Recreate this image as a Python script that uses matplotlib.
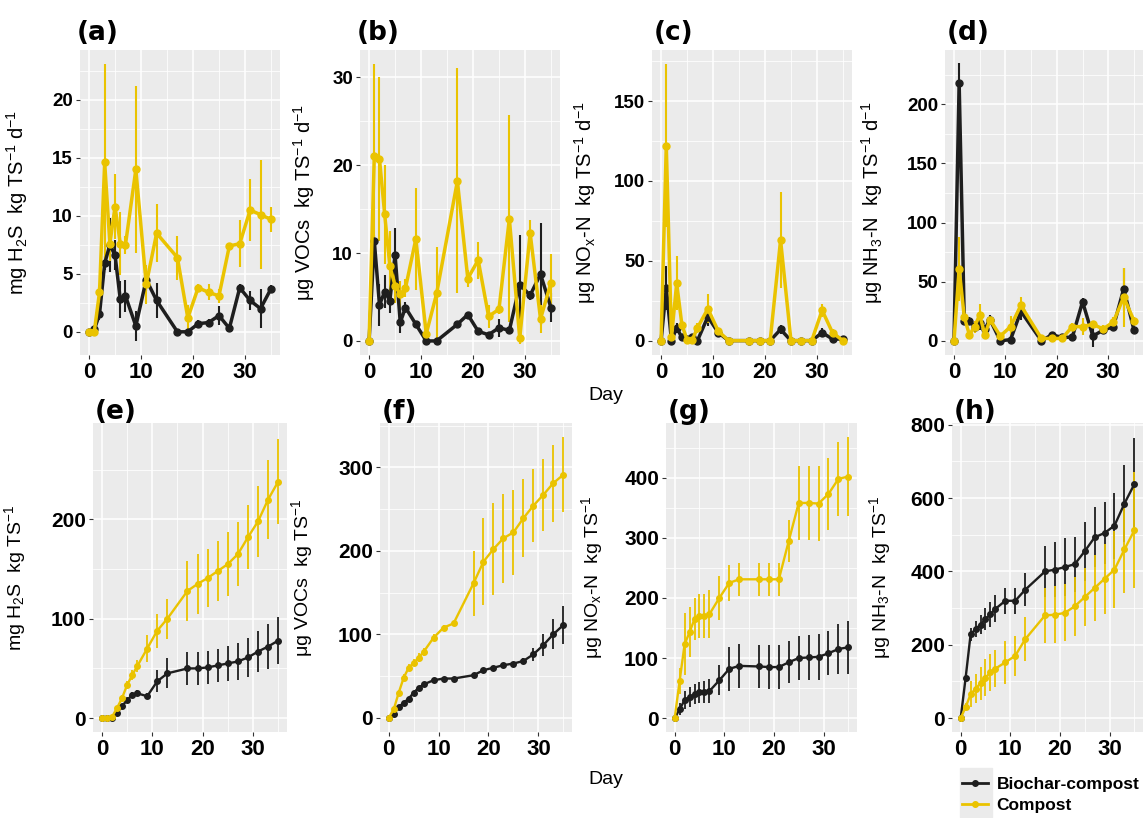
import numpy as np
import matplotlib
matplotlib.use("Agg")
import matplotlib.pyplot as plt
from matplotlib.lines import Line2D
from matplotlib.patches import Rectangle
from matplotlib.ticker import MultipleLocator

plt.rcParams['font.family'] = ['Liberation Sans', 'DejaVu Sans']
plt.rcParams['mathtext.default'] = 'regular'

# sampling days (shared by every panel)
days = [0, 1, 2, 3, 4, 5, 6, 7, 9, 11, 13, 17, 19, 21, 23, 25, 27, 29, 31, 33, 35]

# ---- daily emission rates (mean, sd) ----
h2s_rate_bc = [0, 0.2, 1.5, 5.9, 7.5, 6.6, 2.8, 3.1, 0.5, 4.5, 2.7, 0, 0, 0.7, 0.8, 1.4, 0.3, 3.8, 2.7, 2.0, 3.7]
h2s_rate_bc_sd = [0, 0.3, 0.5, 0.6, 2.3, 1.3, 1.6, 1.4, 1.3, 1.0, 1.5, 0.1, 0.1, 0.3, 0.3, 0.8, 0.2, 0.3, 0.8, 1.7, 0.3]
h2s_rate_c = [0, 0, 3.4, 14.6, 7.6, 10.8, 7.6, 7.5, 14.0, 4.1, 8.5, 6.4, 1.2, 3.8, 3.4, 3.1, 7.4, 7.6, 10.5, 10.1, 9.7]
h2s_rate_c_sd = [0, 0, 0.5, 8.5, 1.5, 2.8, 2.7, 0.8, 7.2, 1.7, 2.5, 1.9, 1.1, 0.3, 0.7, 0.6, 0.3, 2.0, 2.7, 4.7, 1.1]

voc_rate_bc = [0, 11.4, 4.1, 5.6, 4.6, 9.8, 2.1, 3.8, 1.9, 0, 0, 1.9, 3.0, 1.1, 0.7, 1.5, 1.2, 6.4, 5.2, 7.6, 3.8]
voc_rate_bc_sd = [0, 0.6, 2.4, 1.9, 1.4, 3.0, 1.2, 0.6, 0.4, 0.1, 0.1, 0.3, 0.3, 0.2, 0.2, 1.0, 0.3, 5.6, 0.5, 5.8, 1.7]
voc_rate_c = [0, 21.0, 20.7, 14.4, 8.5, 6.3, 5.3, 6.0, 11.6, 0.8, 5.4, 18.2, 7.1, 9.2, 2.8, 3.6, 13.9, 0.3, 12.3, 2.5, 6.6]
voc_rate_c_sd = [0, 10.5, 9.3, 5.6, 4.0, 2.0, 1.5, 1.0, 5.8, 0.8, 5.3, 12.8, 1.0, 2.1, 1.3, 0.5, 11.8, 0.7, 1.5, 1.6, 3.3]

nox_rate_bc = [0, 33, 0, 8, 2, 1, 2, 0, 15, 5, 0, 0, 0, 0, 7, 0, 0, 0, 5, 1, 1]
nox_rate_bc_sd = [0, 14, 0.5, 3, 1, 0.5, 1, 0.5, 6, 1, 0, 0, 0, 0, 3, 0, 0, 0, 3, 0.5, 0.5]
nox_rate_c = [0, 122, 2, 36, 10, 0.5, 0.5, 8, 20, 6, 0, 0, 0, 0, 63, 0, 0, 0, 19, 5, 0]
nox_rate_c_sd = [0, 51, 1, 17, 3, 0.5, 0.5, 3, 9, 2, 0, 0, 0, 0, 30, 0, 0, 0, 4, 2, 0]

nh3_rate_bc = [0, 218, 17, 17, 12, 15, 10, 18, 0, 1, 25, 0, 5, 3, 3, 33, 4, 9, 12, 44, 9]
nh3_rate_bc_sd = [0, 17, 3, 3, 4, 6, 3, 4, 1, 1, 7, 1, 2, 1, 1, 3, 9, 2, 3, 18, 2]
nh3_rate_c = [0, 61, 20, 5, 12, 22, 5, 18, 4, 12, 30, 2, 2, 2, 12, 12, 14, 10, 16, 37, 17]
nh3_rate_c_sd = [0, 27, 5, 3, 5, 9, 3, 3, 2, 9, 7, 1, 1, 1, 3, 7, 3, 3, 4, 25, 3]

# ---- cumulative emissions (mean, sd) ----
h2s_cum_bc = [0, 0, 0, 5, 12, 18, 23, 25, 22, 37, 45, 50, 50, 51, 53, 55, 57, 61, 67, 72, 78]
h2s_cum_bc_sd = [0, 0, 0, 1, 2, 2, 3, 3, 3, 11, 15, 17, 17, 17, 17, 18, 19, 20, 21, 23, 24]
h2s_cum_c = [0, 0, 1, 10, 20, 33, 43, 52, 70, 88, 100, 128, 135, 141, 148, 155, 165, 182, 198, 220, 238]
h2s_cum_c_sd = [0, 0, 0.5, 2, 3, 4, 5, 6, 14, 17, 20, 30, 30, 29, 30, 32, 32, 32, 36, 40, 43]

voc_cum_bc = [0, 5, 13, 18, 23, 30, 36, 40, 45, 47, 47, 51, 57, 60, 63, 65, 68, 76, 87, 100, 111]
voc_cum_bc_sd = [0, 1, 1, 1, 1, 2, 2, 2, 2, 2, 2, 2, 2, 2, 2, 2, 4, 8, 13, 18, 23]
voc_cum_c = [0, 10, 30, 48, 60, 66, 72, 79, 96, 108, 113, 161, 187, 202, 215, 222, 239, 254, 267, 281, 291]
voc_cum_c_sd = [0, 1, 3, 4, 4, 4, 5, 5, 4, 3, 3, 39, 52, 55, 53, 51, 47, 44, 43, 46, 45]

nox_cum_bc = [0, 15, 30, 35, 40, 43, 44, 45, 63, 82, 87, 86, 85, 85, 93, 100, 101, 102, 108, 115, 118]
nox_cum_bc_sd = [0, 10, 15, 17, 17, 17, 18, 20, 25, 36, 36, 36, 36, 37, 35, 37, 37, 38, 37, 42, 44]
nox_cum_c = [0, 62, 123, 143, 165, 170, 170, 173, 200, 225, 231, 231, 231, 231, 295, 358, 358, 357, 373, 398, 402]
nox_cum_c_sd = [0, 22, 52, 42, 35, 37, 37, 40, 37, 30, 27, 27, 27, 27, 35, 62, 62, 62, 60, 62, 66]

nh3_cum_bc = [0, 110, 228, 243, 255, 270, 283, 298, 320, 320, 350, 400, 405, 412, 420, 455, 493, 505, 525, 585, 638]
nh3_cum_bc_sd = [0, 5, 18, 22, 25, 30, 35, 37, 35, 35, 45, 70, 75, 78, 75, 80, 82, 85, 90, 105, 127]
nh3_cum_c = [0, 30, 65, 80, 95, 110, 125, 135, 152, 170, 215, 280, 282, 287, 305, 330, 355, 380, 405, 460, 512]
nh3_cum_c_sd = [0, 10, 35, 40, 45, 50, 50, 50, 58, 55, 60, 75, 78, 78, 80, 80, 90, 95, 105, 120, 158]

BLACK = '#1e1e1e'
GOLD = '#EAC300'
W, H = 1143, 818

# panel boxes in pixels: left, top, right, bottom
boxes = {
    'a': (80, 50, 280, 355), 'b': (360, 50, 560, 355),
    'c': (652, 50, 852, 355), 'd': (945, 50, 1143, 355),
    'e': (93, 423, 287, 732), 'f': (380, 423, 572, 732),
    'g': (666, 423, 857, 732), 'h': (952, 423, 1143, 732),
}

panels = [
    ('a', h2s_rate_bc, h2s_rate_bc_sd, h2s_rate_c, h2s_rate_c_sd, (-2.0, 24.3), 5,
     'mg H$_2$S  kg TS$^{-1}$ d$^{-1}$', 30),
    ('b', voc_rate_bc, voc_rate_bc_sd, voc_rate_c, voc_rate_c_sd, (-1.6, 33.1), 10,
     'μg VOCs  kg TS$^{-1}$ d$^{-1}$', 317),
    ('c', nox_rate_bc, nox_rate_bc_sd, nox_rate_c, nox_rate_c_sd, (-9, 182), 50,
     'μg NO$_x$-N  kg TS$^{-1}$ d$^{-1}$', 598),
    ('d', nh3_rate_bc, nh3_rate_bc_sd, nh3_rate_c, nh3_rate_c_sd, (-12, 246), 50,
     'μg NH$_3$-N  kg TS$^{-1}$ d$^{-1}$', 885),
    ('e', h2s_cum_bc, h2s_cum_bc_sd, h2s_cum_c, h2s_cum_c_sd, (-14, 297), 100,
     'mg H$_2$S  kg TS$^{-1}$', 28),
    ('f', voc_cum_bc, voc_cum_bc_sd, voc_cum_c, voc_cum_c_sd, (-17, 353), 100,
     'μg VOCs  kg TS$^{-1}$', 315),
    ('g', nox_cum_bc, nox_cum_bc_sd, nox_cum_c, nox_cum_c_sd, (-23, 491), 100,
     'μg NO$_x$-N  kg TS$^{-1}$', 605),
    ('h', nh3_cum_bc, nh3_cum_bc_sd, nh3_cum_c, nh3_cum_c_sd, (-38, 805), 200,
     'μg NH$_3$-N  kg TS$^{-1}$', 893),
]

fig = plt.figure(figsize=(W / 100, H / 100), dpi=100)

for key, bc, bc_sd, c, c_sd, ylim, ystep, ylabel, label_x in panels:
    l, t, r, b = boxes[key]
    ax = fig.add_axes([l / W, 1 - b / H, (r - l) / W, (b - t) / H])
    top_row = key in 'abcd'
    lw = 2.5 if top_row else 1.7
    ms = 5 if top_row else 4
    elw = 1.5 if top_row else 1.3

    for vals, sd, col in ((bc, bc_sd, BLACK), (c, c_sd, GOLD)):
        ax.errorbar(days, vals, yerr=sd, color=col, lw=lw, marker='o', ms=ms,
                    elinewidth=elw, capsize=0, zorder=3)

    ax.set_facecolor('#EBEBEB')
    for s in ax.spines.values():
        s.set_visible(False)
    ax.set_xlim(-1.75, 36.75)
    ax.set_ylim(*ylim)
    ax.xaxis.set_major_locator(MultipleLocator(10))
    ax.xaxis.set_minor_locator(MultipleLocator(5))
    ax.yaxis.set_major_locator(MultipleLocator(ystep))
    ax.yaxis.set_minor_locator(MultipleLocator(ystep / 2))
    ax.grid(which='major', color='white', lw=1.1, zorder=0)
    ax.grid(which='minor', color='white', lw=0.55, zorder=0)
    ax.set_axisbelow(True)
    ax.tick_params(which='minor', length=0)
    ax.tick_params(which='major', length=3, width=0.8, color='#333333', pad=2)
    for lab in ax.get_xticklabels():
        lab.set_fontsize(16)
        lab.set_fontweight('bold')
    for lab in ax.get_yticklabels():
        lab.set_fontsize(13.5 if top_row else 15)
        lab.set_fontweight('bold')

    ax.set_ylabel(ylabel, fontsize=14.5 if top_row else 14)
    ax.yaxis.set_label_coords((label_x - l) / (r - l), 0.5)

    # panel tag
    ty = 33 if top_row else 412
    fig.text((l - 3 if key in 'ab' else l + 2) / W, 1 - ty / H, f'({key})',
             fontsize=19, fontweight='bold', family='DejaVu Sans', va='center', ha='left')

fig.text(606 / W, 1 - 395 / H, 'Day', fontsize=14, ha='center', va='center')
fig.text(606 / W, 1 - 780 / H, 'Day', fontsize=14, ha='center', va='center')

# legend with grey key background
fig.patches.append(Rectangle((960 / W, 1 - 817 / H), 32 / W, 49 / H,
                             transform=fig.transFigure, color='#EBEBEB', zorder=0))
handles = [Line2D([], [], color=BLACK, lw=2, marker='o', ms=4),
           Line2D([], [], color=GOLD, lw=2, marker='o', ms=4)]
fig.legend(handles, ['Biochar-compost', 'Compost'], loc='center left',
           bbox_to_anchor=(962 / W, 1 - 795 / H), frameon=False,
           prop={'weight': 'bold', 'size': 12.5}, handlelength=1.5,
           handletextpad=0.5, labelspacing=0.35, borderpad=0, borderaxespad=0)

fig.savefig('out.png', dpi=100)
